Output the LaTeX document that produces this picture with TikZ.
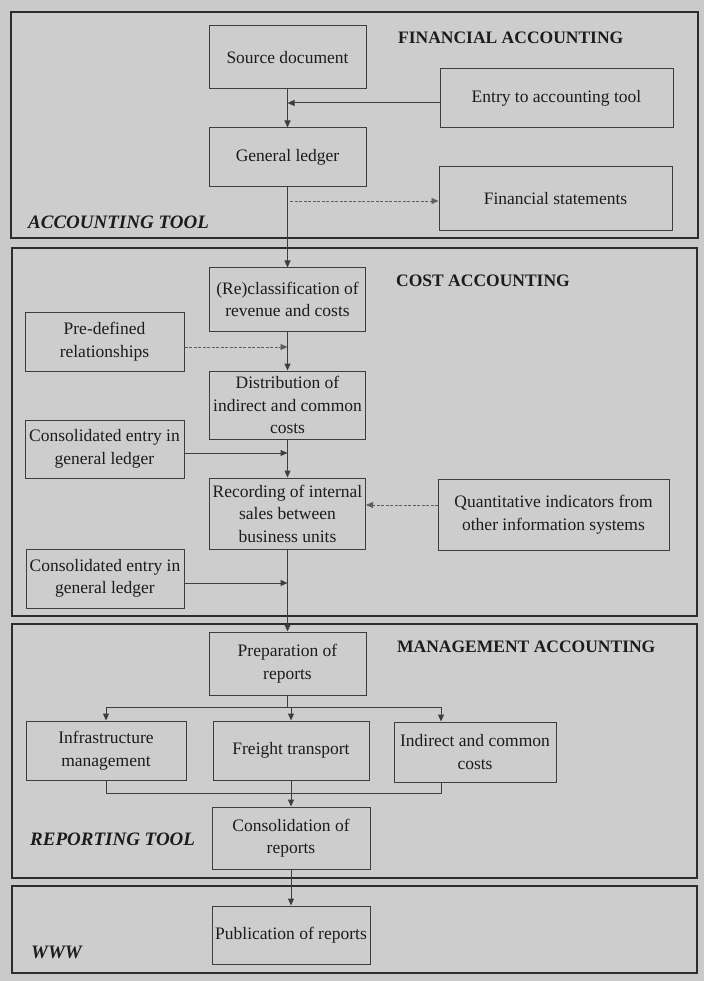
\documentclass[tikz,border=0pt]{standalone}
\usepackage{fontspec}
\setmainfont{Liberation Serif}
\usetikzlibrary{arrows.meta}

\definecolor{paper}{RGB}{202,202,202}
\definecolor{panelfill}{RGB}{205,205,205}
\definecolor{ink}{RGB}{28,28,28}
\definecolor{frameline}{RGB}{45,45,45}
\definecolor{boxline}{RGB}{62,62,62}
\definecolor{dashline}{RGB}{95,95,95}

\tikzset{
  panel/.style={draw=frameline, fill=panelfill, line width=2pt},
  stepbox/.style={draw=boxline, fill=panelfill, line width=1pt, rectangle, inner sep=0pt,
    align=center, text=ink, font=\fontsize{17.5}{22.5}\selectfont},
  sz/.style 2 args={minimum width=#1pt, minimum height=#2pt},
  heading/.style={anchor=base west, inner sep=0pt, text=ink,
    font=\fontsize{17.5}{21}\selectfont\bfseries},
  toollabel/.style={anchor=base west, inner sep=0pt, text=ink,
    font=\fontsize{19}{23}\selectfont\bfseries\itshape},
  flow/.style={draw=boxline, line width=1pt, -{Triangle[length=7pt,width=6pt]}},
  link/.style={draw=boxline, line width=1pt},
  feed/.style={draw=dashline, line width=0.9pt, dash pattern=on 3pt off 1.5pt,
    -{Triangle[length=7pt,width=6pt]}},
}

\begin{document}
\begin{tikzpicture}[x=1pt, y=-1pt]
  \fill[paper] (0,0) rectangle (704,981);
  \useasboundingbox (0,0) rectangle (704,981);

  % tool panels
  \draw[panel] (11,12) rectangle (698,238);
  \draw[panel] (12,248) rectangle (697,616);
  \draw[panel] (12,624) rectangle (697,878);
  \draw[panel] (12,886) rectangle (697,973);

  % panel headings and tool labels
  \node[heading] (hfin) at (398,44) {FINANCIAL ACCOUNTING};
  \node[heading] (hcost) at (396,287) {COST ACCOUNTING};
  \node[heading] (hman) at (397,652) {MANAGEMENT ACCOUNTING};
  \node[toollabel] (lacc) at (28,229) {ACCOUNTING TOOL};
  \node[toollabel] (lrep) at (30,845) {REPORTING TOOL};
  \node[toollabel] (lwww) at (31,958) {WWW};

  % financial accounting
  \node[stepbox, sz={157}{63}] (src) at (287.5,57.5) {Source document};
  \node[stepbox, sz={233}{59}] (entry) at (556.5,98.5) {Entry to accounting tool};
  \node[stepbox, sz={157}{59}] (gl) at (287.5,157.5) {General ledger};
  \node[stepbox, sz={233}{64}] (fs) at (555.5,199) {Financial statements};

  % cost accounting
  \node[stepbox, sz={156}{63}] (recl) at (287.5,299.5) {(Re)classification of\\revenue and costs};
  \node[stepbox, sz={159}{59}] (pre) at (104.5,341.5) {Pre-defined\\relationships};
  \node[stepbox, sz={156}{68}] (dist) at (287.5,405) {Distribution of\\indirect and common\\costs};
  \node[stepbox, sz={159}{58}] (cons1) at (104.5,449) {Consolidated entry in\\general ledger};
  \node[stepbox, sz={156}{71}] (rec) at (287.5,513.5) {Recording of internal\\sales between\\business units};
  \node[stepbox, sz={231}{71}] (quant) at (553.5,514.5) {Quantitative indicators from\\other information systems};
  \node[stepbox, sz={158}{59}] (cons2) at (105,578.5) {Consolidated entry in\\general ledger};

  % management accounting
  \node[stepbox, sz={157}{63}] (prep) at (287.5,663.5) {Preparation of\\reports};
  \node[stepbox, sz={160}{59}] (infra) at (106,750.5) {Infrastructure\\management};
  \node[stepbox, sz={156}{59}] (freight) at (291,750.5) {Freight transport};
  \node[stepbox, sz={162}{60}] (indirect) at (475,752) {Indirect and common\\costs};
  \node[stepbox, sz={158}{62}] (cons) at (291,838) {Consolidation of\\reports};

  % web
  \node[stepbox, sz={158}{58}] (pub) at (291,935) {Publication of reports};

  % junction points on the main line
  \coordinate (jentry) at (287.5,103);
  \coordinate (jfs) at (290,201);
  \coordinate (jpre) at (287.5,347);
  \coordinate (jcons1) at (287.5,453);
  \coordinate (jquant) at (438,505);
  \coordinate (jcons2) at (287.5,583);
  \coordinate (split) at (287.5,707);
  \coordinate (splitl) at (106,707);
  \coordinate (splitr) at (441,707);
  \coordinate (mergel) at (106,793);
  \coordinate (merger) at (441,793);

  % financial accounting flow
  \draw[flow] (src.south) -- (gl.north);
  \draw[flow] (entry.west |- jentry) -- (jentry);
  \draw[feed] (jfs) -- (fs.west |- jfs);
  \draw[flow] (gl.south) -- (recl.north);

  % cost accounting flow
  \draw[flow] (recl.south) -- (dist.north);
  \draw[feed] (pre.east |- jpre) -- (jpre);
  \draw[flow] (dist.south) -- (rec.north);
  \draw[flow] (cons1.east |- jcons1) -- (jcons1);
  \draw[feed] (jquant) -- (rec.east |- jquant);
  \draw[flow] (rec.south) -- (prep.north);
  \draw[flow] (cons2.east |- jcons2) -- (jcons2);

  % reporting: split into segments and merge again
  \draw[link] (prep.south) -- (split);
  \draw[link] (splitl) -- (splitr);
  \draw[flow] (splitl) -- (infra.north);
  \draw[flow] (freight.north |- split) -- (freight.north);
  \draw[flow] (splitr) -- (splitr |- indirect.north);
  \draw[link] (infra.south) -- (mergel) -- (merger) -- (merger |- indirect.south);
  \draw[flow] (freight.south) -- (cons.north);
  \draw[flow] (cons.south) -- (pub.north);
\end{tikzpicture}
\end{document}
